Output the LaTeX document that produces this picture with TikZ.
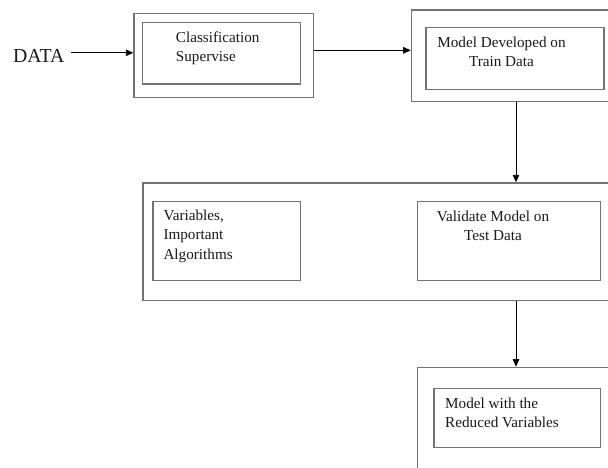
\documentclass[tikz,border=0pt]{standalone}
\usepackage{fontspec}
\setmainfont{Liberation Serif}
\usetikzlibrary{arrows.meta}
\tikzset{
  frame/.style={draw=black!55, line width=1.2pt, rectangle, inner sep=0pt,
    anchor=north west},
  boxtext/.style={inner sep=0pt, font=\fontsize{15.2}{19.5}\selectfont, text=black!90},
  flow/.style={draw=black, line width=0.9pt, -{Triangle[length=7.5pt,width=6.5pt]}}
}
\begin{document}
\begin{tikzpicture}[x=1pt,y=-1pt]
  \clip (0,0) rectangle (608,467);
  \fill[white] (0,0) rectangle (608,467);

  % input label
  \node[inner sep=0pt, anchor=base west, font=\fontsize{19.8}{22}\selectfont, text=black!90]
    (data) at (13,62) {DATA};

  % stage 1: classification
  \node[frame, minimum width=179.4pt, minimum height=84pt] (b1o) at (133.3,12.7) {};
  \node[frame, minimum width=158pt, minimum height=61.3pt] (b1i) at (142,22) {};
  \node[boxtext, anchor=north west, align=left] (t1) at (175.7,31.5)
    {Classification\\Supervise};

  % stage 2: training
  \node[frame, minimum width=210pt, minimum height=91.4pt] (b2o) at (410.7,9.3) {};
  \node[frame, minimum width=178pt, minimum height=62pt] (b2i) at (425.3,26.7) {};
  \node[boxtext, anchor=north, align=center] (t2) at (501.5,36.5)
    {Model Developed on\\Train Data};

  % stage 3: validation
  \node[frame, minimum width=480pt, minimum height=117.7pt] (b3o) at (142.3,182.3) {};
  \node[frame, minimum width=147.7pt, minimum height=79pt] (b3l) at (152.3,201) {};
  \node[frame, minimum width=183.3pt, minimum height=79pt] (b3r) at (416.7,201) {};
  \node[boxtext, anchor=north west, align=left] (t3) at (163.3,209.5)
    {Variables,\\Important\\Algorithms};
  \node[boxtext, anchor=north, align=center] (t4) at (493,210.5)
    {Validate Model on\\Test Data};

  % stage 4: reduced model
  \node[frame, minimum width=210pt, minimum height=120pt] (b4o) at (416.7,366.7) {};
  \node[frame, minimum width=166.7pt, minimum height=59pt] (b4i) at (433.3,387.7) {};
  \node[boxtext, anchor=north west, align=left] (t5) at (445,397.5)
    {Model with the\\Reduced Variables};

  % connectors
  \coordinate (col) at (516,0);
  \draw[flow] ([xshift=6pt,yshift=2.7pt]data.east) -- ([yshift=2.7pt]data.east -| b1o.west);
  \draw[flow] ([yshift=5pt]b1o.east) -- ([yshift=5pt]b1o.east -| b2o.west);
  \draw[flow] (b2o.south -| col) -- (b3o.north -| col);
  \draw[flow] (b3o.south -| col) -- (b4o.north -| col);
\end{tikzpicture}
\end{document}
